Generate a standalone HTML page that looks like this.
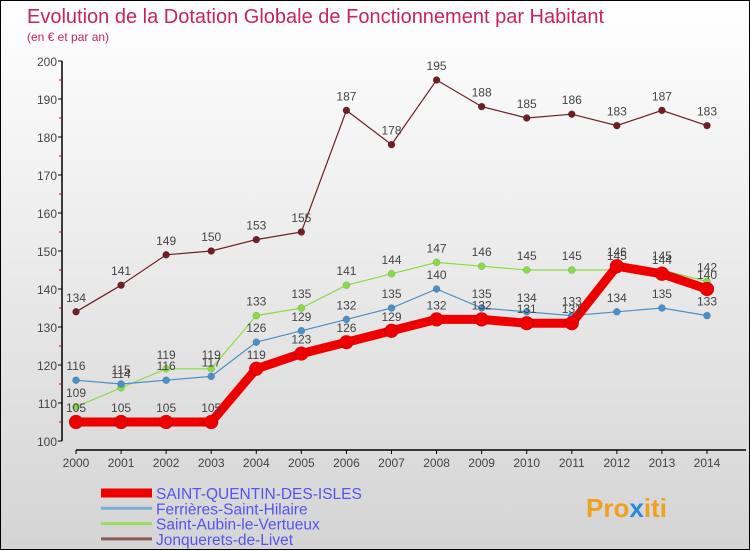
<!DOCTYPE html>
<html><head><meta charset="utf-8"><style>
html,body{margin:0;padding:0}
body{width:750px;height:550px;overflow:hidden;font-family:"Liberation Sans",sans-serif}
#wrap{position:relative;width:748px;height:548px;border:1px solid #000;background:linear-gradient(#ffffff,#d4d4d4)}
svg{position:absolute;left:0;top:0}
</style></head><body>
<div id="wrap">
<svg id="chart" width="750" height="550">
<text x="26" y="22" font-size="20" fill="#c8245c">Evolution de la Dotation Globale de Fonctionnement par Habitant</text>
<text x="26" y="40" font-size="12" fill="#c8245c">(en € et par an)</text>
<g id="axes"></g><g id="series"></g><g id="legend"></g>
<text x="585" y="516" font-size="26" font-weight="bold" fill="#f0a020">Pro<tspan fill="#2a8ad8">x</tspan><tspan fill="#f0a020">iti</tspan></text>
</svg>
</div>
<script>
const years=[2000,2001,2002,2003,2004,2005,2006,2007,2008,2009,2010,2011,2012,2013,2014];
const yTicks=[100,110,120,130,140,150,160,170,180,190,200];
const stQuentin=[105,105,105,105,119,123,126,129,132,132,131,131,146,144,140];
const ferrieres=[116,115,116,117,126,129,132,135,140,135,134,133,134,135,133];
const stAubin=[109,114,119,119,133,135,141,144,147,146,145,145,145,145,142];
const jonquerets=[134,141,149,150,153,155,187,178,195,188,185,186,183,187,183];
const seriesNames=["SAINT-QUENTIN-DES-ISLES","Ferrières-Saint-Hilaire","Saint-Aubin-le-Vertueux","Jonquerets-de-Livet"];
const NS="http://www.w3.org/2000/svg";
const xS=i=>75+i*(631/14);
const yS=v=>440-(v-100)*3.8;
function mk(t,a,p){const e=document.createElementNS(NS,t);for(const k in a)e.setAttribute(k,a[k]);p.appendChild(e);return e;}
const ax=document.getElementById('axes');
let l=mk('line',{x1:61,y1:yS(200),x2:61,y2:yS(100),stroke:'#000','stroke-width':1.5},ax);


yTicks.forEach(v=>{
 let t=mk('line',{x1:57,y1:yS(v),x2:61,y2:yS(v),stroke:'#000'},ax);
 
 
 if(v<200){let m=mk('line',{x1:58,y1:yS(v+5),x2:61,y2:yS(v+5),stroke:'#d00'},ax);
 
 }
 let tx=mk('text',{x:56,y:yS(v)+5,'font-size':12,fill:'#444','text-anchor':'end'},ax);tx.textContent=v;
 
 
});
l=mk('line',{x1:xS(0),y1:449,x2:745,y2:449,stroke:'#000','stroke-width':1.5},ax);


years.forEach((y,i)=>{
 let t=mk('line',{x1:xS(i),y1:449,x2:xS(i),y2:453,stroke:'#000'},ax);
 
 
 let tx=mk('text',{x:xS(i),y:466,'font-size':12,fill:'#444','text-anchor':'middle'},ax);tx.textContent=y;
 
 
});
const sg=document.getElementById('series');
const defs=[[jonquerets,'#6e1f24',1.2,3.5,'jonquerets'],[stAubin,'#88dd44',1.2,3.5,'saint-aubin'],[ferrieres,'#4a90c8',1.2,3.5,'ferrieres'],[stQuentin,'#ee0000',9,7,'saint-quentin']];
defs.forEach(([d,c,w,r,n])=>{
 const g=mk('g',{},sg);
 
 
 const p=mk('polyline',{points:d.map((v,i)=>xS(i)+','+yS(v)).join(' '),fill:'none',stroke:c,'stroke-width':w},g);
 
 
 d.forEach((v,i)=>{
  const ci=mk('circle',{cx:xS(i),cy:yS(v),r:r,fill:c,stroke:'rgba(0,0,0,0.25)','stroke-width':0.5},g);
  
  
  const tx=mk('text',{x:xS(i),y:yS(v)-10,'font-size':12,fill:'#444','text-anchor':'middle'},g);tx.textContent=v;
  
  
 });
});
const lg=document.getElementById('legend');
const lc=[['#ee0000',9],['#7aaed0',3],['#99dd66',3],['#8a5a5a',3]];
seriesNames.forEach((n,i)=>{
 const y=492+i*15.3;
 const g=mk('g',{},lg);
 
 
 const ln=mk('line',{x1:100,y1:y,x2:151,y2:y,stroke:lc[i][0],'stroke-width':lc[i][1]},g);
 
 
 const tx=mk('text',{x:155,y:y+6,'font-size':15.5,fill:'#5555ee'},g);tx.textContent=n;
 
 
});
</script>
</body></html>
